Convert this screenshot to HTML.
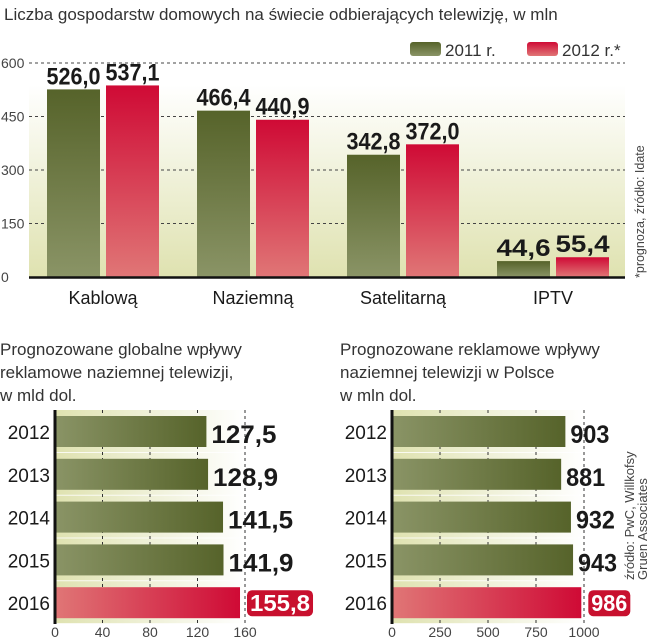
<!DOCTYPE html>
<html><head><meta charset="utf-8">
<style>
body{margin:0;background:#fff;}
svg{display:block;font-family:"Liberation Sans",sans-serif;}
.cond{font-family:"Liberation Sans Narrow","Liberation Sans",sans-serif;font-weight:bold;}
</style></head>
<body>
<svg id="c" width="652" height="640" viewBox="0 0 652 640">
<defs>
<linearGradient id="bgV" x1="0" y1="0" x2="0" y2="1"><stop offset="0" stop-color="#fff"/><stop offset="1" stop-color="#dfe2b0"/></linearGradient>
<linearGradient id="grV" x1="0" y1="0" x2="0" y2="1"><stop offset="0" stop-color="#56632a"/><stop offset="1" stop-color="#8a9466"/></linearGradient>
<linearGradient id="rdV" x1="0" y1="0" x2="0" y2="1"><stop offset="0" stop-color="#cf0a35"/><stop offset="1" stop-color="#e07676"/></linearGradient>
<linearGradient id="grH" x1="0" y1="0" x2="1" y2="0"><stop offset="0" stop-color="#8a9466"/><stop offset="1" stop-color="#56632a"/></linearGradient>
<linearGradient id="rdH" x1="0" y1="0" x2="1" y2="0"><stop offset="0" stop-color="#e07676"/><stop offset="1" stop-color="#cf0a35"/></linearGradient>
<linearGradient id="bgH" x1="0" y1="0" x2="1" y2="0"><stop offset="0" stop-color="#dfe2b0"/><stop offset="1" stop-color="#fff"/></linearGradient>
</defs>
<text x="4" y="20" font-size="17" fill="#333">Liczba gospodarstw domowych na świecie odbierających telewizję, w mln</text>
<g id="top"></g>
<g id="bl"></g>
<g id="br"></g>
</svg>
<script>
const NS="http://www.w3.org/2000/svg";
function mk(p,t,a,txt){const e=document.createElementNS(NS,t);for(const k in a)e.setAttribute(k,a[k]);if(txt!==undefined)e.textContent=txt;p.appendChild(e);return e;}

// Top chart data
const categories=["Kablową","Naziemną","Satelitarną","IPTV"];
const series2011=[526.0,466.4,342.8,44.6];
const series2012=[537.1,440.9,372.0,55.4];
const yTicks=[0,150,300,450,600];

const topG=document.getElementById('top');
const y0=277,yk=214/600;
const Y=v=>y0-v*yk;
const bg=mk(topG,'rect',{x:29,y:85,width:596,height:192,fill:'url(#bgV)'});


yTicks.forEach(t=>{
  if(t>0){const l=mk(topG,'line',{x1:29,x2:625,y1:Y(t),y2:Y(t),stroke:'#444','stroke-dasharray':'3,3','stroke-width':1});
  
  }
  const tx=mk(topG,'text',{x:1,y:Y(t)+5,'font-size':14,fill:'#444'},t);
  
  
});
categories.forEach((c,i)=>{
  const gx=47+i*150;
  [[series2011[i],'url(#grV)',gx],[series2012[i],'url(#rdV)',gx+59]].forEach(([v,f,x],j)=>{
    const r=mk(topG,'rect',{x:x,y:Y(v),width:53,height:v*yk,fill:f});
    
    
    const t=mk(topG,'text',{x:x+26.5,y:Y(v)-5,'font-size':24,'text-anchor':'middle',class:'cond',fill:'#1a1a1a',textLength:54,lengthAdjust:'spacingAndGlyphs'},v.toFixed(1).replace('.',','));
    
    
  });
  const ct=mk(topG,'text',{x:gx+56,y:304,'font-size':18,'text-anchor':'middle',fill:'#1a1a1a'},c);
  
  
});
const ax=mk(topG,'line',{x1:29,x2:625,y1:277.5,y2:277.5,stroke:'#111','stroke-width':2.5});


const lg=[['url(#grV)','2011 r.',410],['url(#rdV)','2012 r.*',527]];
lg.forEach(([f,t,x])=>{
  const r=mk(topG,'rect',{x:x,y:42,width:31,height:14,rx:3,fill:f});
  
  
  const tt=mk(topG,'text',{x:x+35,y:56,'font-size':17,fill:'#333'},t);
  
  
});
const srcNote=mk(topG,'text',{x:0,y:0,'font-size':12.5,fill:'#444',transform:'translate(644,278) rotate(-90)'},'*prognoza, źródło: Idate');



// Bottom-left data
const years=["2012","2013","2014","2015","2016"];
const globalValues=[127.5,128.9,141.5,141.9,155.8];
const globalTicks=[0,40,80,120,160];
// Bottom-right data
const polandValues=[903,881,932,943,986];
const polandTicks=[0,250,500,750,1000];

function hchart(g,title,x0,scale,vals,ticks,fmt,plotW){
  title.forEach((t,i)=>{const e=mk(g,'text',{x:x0-55+(x0>300?3:0),y:355+i*23,'font-size':17,fill:'#333'},t);
  
  });
  const X=v=>x0+v*scale;
  const rowY=i=>416+i*42.8;
  years.forEach((y,i)=>{
    const b=mk(g,'rect',{x:x0,y:rowY(i)-6,width:plotW,height:42,fill:'url(#bgH)'});
    
    
  });
  ticks.forEach(t=>{
    if(t>0){const l=mk(g,'line',{x1:X(t),x2:X(t),y1:410,y2:624,stroke:'#333','stroke-dasharray':'3,3'});
    
    }
    const tx=mk(g,'text',{x:X(t),y:637,'font-size':14,'text-anchor':'middle',fill:'#444'},t);
    
    
  });
  years.forEach((y,i)=>{
    const last=i===years.length-1;
    const v=vals[i];
    const r=mk(g,'rect',{x:x0,y:rowY(i),width:v*scale,height:31,fill:last?'url(#rdH)':'url(#grH)'});
    
    
    const yl=mk(g,'text',{x:x0-5,y:rowY(i)+23,'font-size':19,'text-anchor':'end',fill:'#1a1a1a'},y);
    
    
    const s=fmt(v);
    if(last){
      const w=s.length*12+6;
      const bx=mk(g,'rect',{x:X(v)+7,y:rowY(i)+3,width:w,height:26,rx:5,fill:'#c8102e'});
      
      
      const t=mk(g,'text',{x:X(v)+10,y:rowY(i)+24,'font-size':23,class:'cond',fill:'#fff',textLength:s.length*12,lengthAdjust:'spacingAndGlyphs'},s);
      
      
    }else{
      const t=mk(g,'text',{x:X(v)+5,y:rowY(i)+27,'font-size':25,class:'cond',fill:'#1a1a1a',textLength:s.length*13,lengthAdjust:'spacingAndGlyphs'},s);
      
      
    }
  });
  const a=mk(g,'line',{x1:x0,x2:x0,y1:410,y2:624,stroke:'#111','stroke-width':3});
  
  
}
hchart(document.getElementById('bl'),["Prognozowane globalne wpływy","reklamowe naziemnej telewizji,","w mld dol."],55,190/160,globalValues,globalTicks,v=>v.toFixed(1).replace('.',','),190);
hchart(document.getElementById('br'),["Prognozowane reklamowe wpływy","naziemnej telewizji w Polsce","w mln dol."],392,192/1000,polandValues,polandTicks,v=>String(v),192);
const s2=mk(document.getElementById('br'),'text',{x:0,y:0,'font-size':13,fill:'#444',transform:'translate(634,580) rotate(-90)'},'źródło: PwC, Willkofsy');


const s3=mk(document.getElementById('br'),'text',{x:0,y:0,'font-size':13,fill:'#444',transform:'translate(647,580) rotate(-90)'},'Gruen Associates');


</script>
</body></html>
